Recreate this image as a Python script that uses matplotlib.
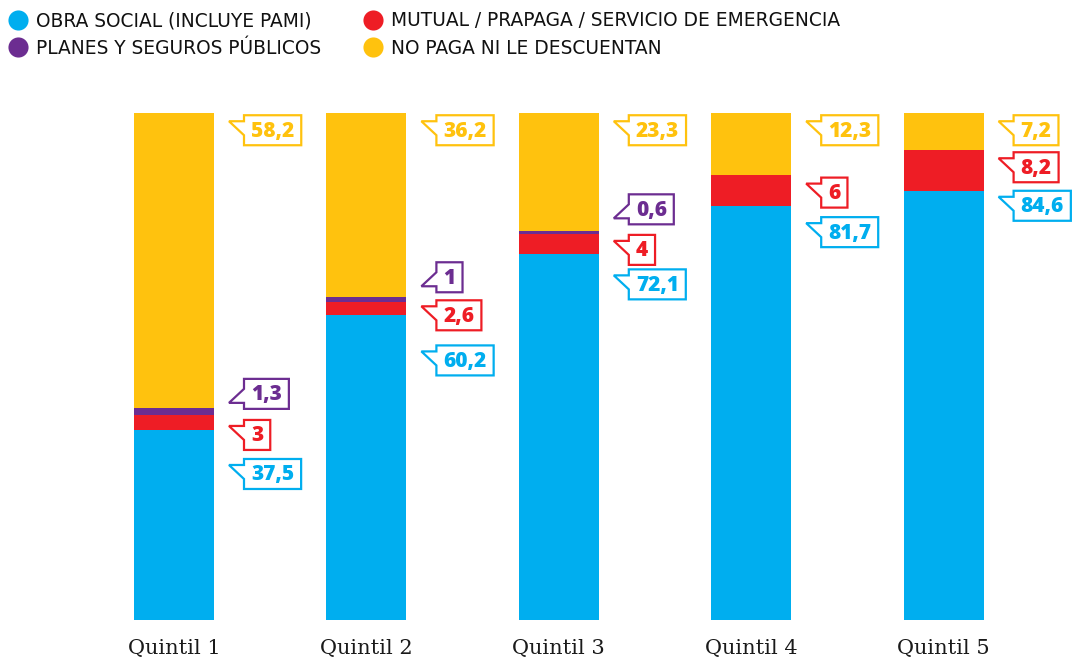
import matplotlib
matplotlib.use('Agg')
import matplotlib.pyplot as plt
import matplotlib.transforms as mtransforms
from matplotlib.patches import Polygon
import numpy as np

quintiles = ['Quintil 1', 'Quintil 2', 'Quintil 3', 'Quintil 4', 'Quintil 5']
obra_social = [37.5, 60.2, 72.1, 81.7, 84.6]
mutual = [3, 2.6, 4, 6, 8.2]
planes = [1.3, 1, 0.6, 0, 0]
no_paga = [58.2, 36.2, 23.3, 12.3, 7.2]

names = ['OBRA SOCIAL (INCLUYE PAMI)', 'MUTUAL / PRAPAGA / SERVICIO DE EMERGENCIA',
         'PLANES Y SEGUROS PÚBLICOS', 'NO PAGA NI LE DESCUENTAN']
blue, red, purple, yellow = '#00AEEF', '#EE1D25', '#6C2D91', '#FFC20E'

# where the value tags sit (in % units), per quintile
tag_y_blue = [28.8, 51.2, 66.2, 76.5, 81.7]
tag_y_red = [36.5, 60.1, 73.0, 84.3, 89.3]
tag_y_purple = [44.6, 67.6, 81.0, None, None]
tag_y_yellow = [96.6, 96.6, 96.6, 96.6, 96.6]

fig = plt.figure(figsize=(10.72, 6.61), dpi=100)
ax = fig.add_axes([0, 41/661, 1, 507/661])
step = 192.4
ax.set_xlim(-174/step, (1072-174)/step)
ax.set_ylim(0, 100)
bw = 80/step

x = np.arange(5)
b1 = np.array(obra_social)
b2 = b1 + np.array(mutual)
b3 = b2 + np.array(planes)
ax.bar(x, obra_social, bw, color=blue)
ax.bar(x, mutual, bw, bottom=b1, color=red)
ax.bar(x, planes, bw, bottom=b2, color=purple)
ax.bar(x, no_paga, bw, bottom=b3, color=yellow)

ax.set_xticks(x, quintiles, family='DejaVu Serif', fontsize=15, color='#1a1a1a')
ax.tick_params(axis='x', length=0, pad=14)
ax.set_yticks([])
for s in ax.spines.values():
    s.set_visible(False)

renderer = fig.canvas.get_renderer()


def tag(i, yv, val, color, flip=False):
    txt = f"{val:g}".replace('.', ',')
    base = mtransforms.ScaledTranslation(i + bw/2, yv, ax.transData)
    px = mtransforms.Affine2D().scale(1/100) + fig.dpi_scale_trans + base
    t = ax.text(0, 0, txt, transform=px, color=color, fontsize=15,
                family='Open Sans', weight='heavy', ha='center', va='center', zorder=5)
    w = t.get_window_extent(renderer).width
    gap, flag, pad, h = 15, 15, 7, 15
    bl = gap + flag
    br = bl + w + 2*pad
    pts = [(br, h), (bl, h), (bl, 9), (gap, 9), (bl, -5), (bl, -h), (br, -h)]
    if flip:
        pts = [(a, -b) for a, b in pts]
    poly = Polygon(pts, closed=True, transform=px, facecolor='white',
                   edgecolor=color, lw=1.6, clip_on=False, zorder=4)
    ax.add_patch(poly)
    t.set_position((bl + pad + w/2, -1))


for i in range(5):
    tag(i, tag_y_yellow[i], no_paga[i], yellow)
    tag(i, tag_y_red[i], mutual[i], red)
    tag(i, tag_y_blue[i], obra_social[i], blue)
    if tag_y_purple[i] is not None:
        tag(i, tag_y_purple[i], planes[i], purple, flip=True)

# legend and loose mark, in pixel coords
ov = fig.add_axes([0, 0, 1, 1], zorder=-1)
ov.set_xlim(0, 1072)
ov.set_ylim(661, 0)
ov.axis('off')
leg = [(18, 20, blue, names[0]), (373, 20, red, names[1]),
       (18, 47, purple, names[2]), (373, 47, yellow, names[3])]
for cx, cy, c, n in leg:
    ov.scatter([cx], [cy], s=210, color=c, linewidths=0)
    ov.text(cx + 18, cy + 1, n, family='DejaVu Sans', fontsize=13.4, color='#111111',
            va='center', ha='left')
ov.text(28, 232, '\\', fontsize=16, color='#111111', ha='center', va='center')

plt.savefig('out.png', dpi=100)
